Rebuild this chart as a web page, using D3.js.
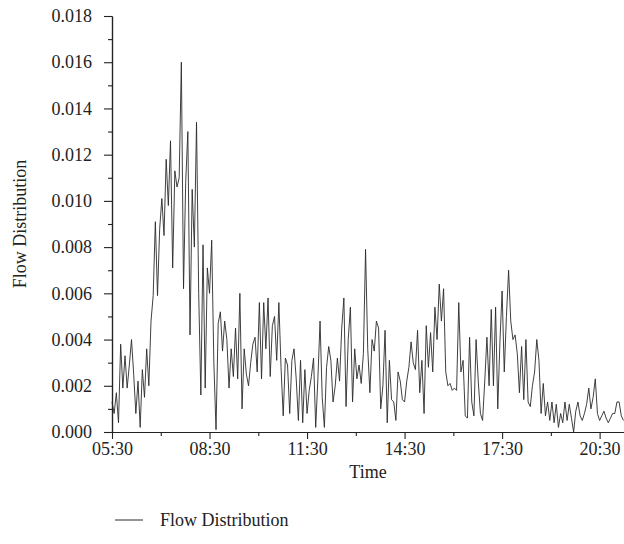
<!DOCTYPE html>
<html>
<head>
<meta charset="utf-8">
<script src="https://cdn.jsdelivr.net/npm/d3@7"></script>
<style>
  body { margin: 0; background: #fff; }
  svg text { font-family: "Liberation Serif", "DejaVu Serif", serif; fill: #222; }
  .axis path, .axis line { stroke: #222; }
</style>
</head>
<body>
<svg id="chart" width="624" height="544"></svg>
<script>
// series: flow distribution sampled every 4 minutes from 05:30
const startMinutes = 5 * 60 + 30;
const stepMinutes = 4;
const flow = [
  0.0013, 0.0008, 0.0017, 0.0004, 0.0038, 0.0019, 0.0033, 0.0019, 0.0029, 0.0040,
  0.0025, 0.0008, 0.0022, 0.0002, 0.0027, 0.0015, 0.0036, 0.0020, 0.0048,
  0.0059, 0.0091, 0.0059, 0.0088, 0.0101, 0.0085, 0.0118, 0.0098, 0.0126, 0.0071, 0.0113, 0.0106,
  0.0110, 0.0160, 0.0062, 0.0108, 0.0130, 0.0042, 0.0105, 0.0080, 0.0134, 0.0060,
  0.0016, 0.0081, 0.0019, 0.0071, 0.0060,
  0.0083, 0.0030, 0.0001, 0.0047, 0.0052, 0.0035, 0.0048, 0.0040, 0.0019, 0.0036,
  0.0024, 0.0045, 0.0023,
  0.0060, 0.0010, 0.0036, 0.0025, 0.0020, 0.0030, 0.0038, 0.0041, 0.0026, 0.0056,
  0.0023, 0.0056, 0.0036, 0.0058, 0.0024, 0.0046, 0.0050, 0.0031, 0.0056, 0.0028,
  0.0007, 0.0032, 0.0029, 0.0008, 0.0031, 0.0036, 0.0023, 0.0005, 0.0031, 0.0004,
  0.0027, 0.0008, 0.0018, 0.0024, 0.0032, 0.0002, 0.0023, 0.0048, 0.0015, 0.0002,
  0.0028, 0.0037, 0.0031, 0.0013, 0.0020, 0.0032, 0.0022, 0.0045, 0.0058, 0.0011,
  0.0040, 0.0054, 0.0013, 0.0036, 0.0023, 0.0029, 0.0021, 0.0034, 0.0079, 0.0036,
  0.0017, 0.0040, 0.0035, 0.0048, 0.0045, 0.0010, 0.0020, 0.0044, 0.0004, 0.0031,
  0.0014, 0.0013, 0.0005, 0.0026, 0.0022, 0.0014, 0.0013, 0.0022, 0.0028, 0.0039,
  0.0030, 0.0027, 0.0044, 0.0017, 0.0031, 0.0008, 0.0046, 0.0028, 0.0043, 0.0026,
  0.0054, 0.0040, 0.0064, 0.0048, 0.0062, 0.0026, 0.0020, 0.0021, 0.0018, 0.0019,
  0.0018, 0.0056, 0.0026, 0.0031, 0.0007, 0.0006, 0.0041, 0.0013, 0.0007, 0.0040,
  0.0022, 0.0008, 0.0005, 0.0022, 0.0041, 0.0020, 0.0053, 0.0020, 0.0054, 0.0010,
  0.0039, 0.0061, 0.0026, 0.0050, 0.0070, 0.0048, 0.0040, 0.0042, 0.0034, 0.0017,
  0.0037, 0.0014, 0.0040, 0.0013, 0.0011, 0.0020, 0.0026, 0.0040, 0.0031, 0.0008,
  0.0021, 0.0007, 0.0013, 0.0005, 0.0013, 0.0004, 0.0012, 0.0002, 0.0008, 0.0004,
  0.0013, 0.0005, 0.0012, 0.0006, 0.0000, 0.0009, 0.0013, 0.0007, 0.0005, 0.0008,
  0.0012, 0.0019, 0.0010, 0.0015, 0.0023, 0.0008, 0.0005, 0.0007, 0.0009, 0.0006,
  0.0004, 0.0006, 0.0008, 0.0008, 0.0013, 0.0013, 0.0007, 0.0005
];

// tick labels
const xTickLabels = ["05:30", "08:30", "11:30", "14:30", "17:30", "20:30"];
const yTicks = [0, 0.002, 0.004, 0.006, 0.008, 0.010, 0.012, 0.014, 0.016, 0.018];
const yMax = 0.018;
const xEndMinutes = 21 * 60 + 15;

const seriesName = "Flow Distribution";
const xTitle = "Time";
const yTitle = "Flow Distribution";

const margin = { left: 112, right: 0, top: 16, bottom: 112 };
const W = 624, H = 544;
const fontSize = 18;

const toMinutes = s => { const p = s.split(":"); return +p[0] * 60 + +p[1]; };
const fmt = m => String(Math.floor(m / 60)).padStart(2, "0") + ":" + String(m % 60).padStart(2, "0");

const data = flow.map((v, i) => ({ t: startMinutes + i * stepMinutes, v }));

const svg = d3.select("#chart");

const x = d3.scaleLinear()
  .domain([startMinutes, xEndMinutes])
  .range([margin.left, W - margin.right]);
const y = d3.scaleLinear()
  .domain([0, yMax])
  .range([H - margin.bottom, margin.top]);

const majorX = xTickLabels.map(toMinutes);
const minorX = majorX.map(m => m + 90).filter(m => m < xEndMinutes);
const minorY = d3.range(0, yTicks.length - 1).map(i => (yTicks[i] + yTicks[i + 1]) / 2);

// line
svg.append("path")
  .datum(data)
  .attr("fill", "none")
  .attr("stroke", "#2a2a2a")
  .attr("stroke-width", 0.9)
  .attr("stroke-linejoin", "round")
  .attr("d", d3.line().x(d => x(d.t)).y(d => y(d.v)));

// x axis
const gx = svg.append("g").attr("class", "axis")
  .attr("transform", `translate(0,${y(0)})`);
gx.call(d3.axisBottom(x).tickValues(minorX).tickSize(4).tickFormat("").tickSizeOuter(0));
gx.append("g").call(d3.axisBottom(x).tickValues(majorX).tickSize(7).tickPadding(3).tickFormat(fmt).tickSizeOuter(0));
gx.selectAll("path").attr("stroke-width", 1.2);
gx.selectAll("line").attr("stroke-width", 1.1);
gx.selectAll("text").attr("font-size", fontSize).attr("fill", "#222");

// y axis
const gy = svg.append("g").attr("class", "axis")
  .attr("transform", `translate(${x(startMinutes)},0)`);
gy.call(d3.axisLeft(y).tickValues(minorY).tickSize(4).tickFormat("").tickSizeOuter(0));
gy.append("g").call(d3.axisLeft(y).tickValues(yTicks).tickSize(8).tickPadding(12).tickFormat(d3.format(".3f")).tickSizeOuter(0));
gy.selectAll("path").attr("stroke-width", 1.2);
gy.selectAll("line").attr("stroke-width", 1.1);
gy.selectAll("text").attr("font-size", fontSize).attr("fill", "#222");

// titles
svg.append("text")
  .attr("x", (x.range()[0] + x.range()[1]) / 2)
  .attr("y", 478)
  .attr("text-anchor", "middle")
  .attr("font-size", fontSize)
  .text(xTitle);

svg.append("text")
  .attr("transform", `translate(26,${(y.range()[0] + y.range()[1]) / 2}) rotate(-90)`)
  .attr("text-anchor", "middle")
  .attr("font-size", fontSize)
  .text(yTitle);

// legend
const lg = svg.append("g").attr("transform", "translate(115,526)");
lg.append("line").attr("x1", 0).attr("x2", 28).attr("y1", -6).attr("y2", -6)
  .attr("stroke", "#2a2a2a").attr("stroke-width", 1);
lg.append("text").attr("x", 45).attr("y", 0).attr("font-size", fontSize).text(seriesName);
</script>
</body>
</html>
